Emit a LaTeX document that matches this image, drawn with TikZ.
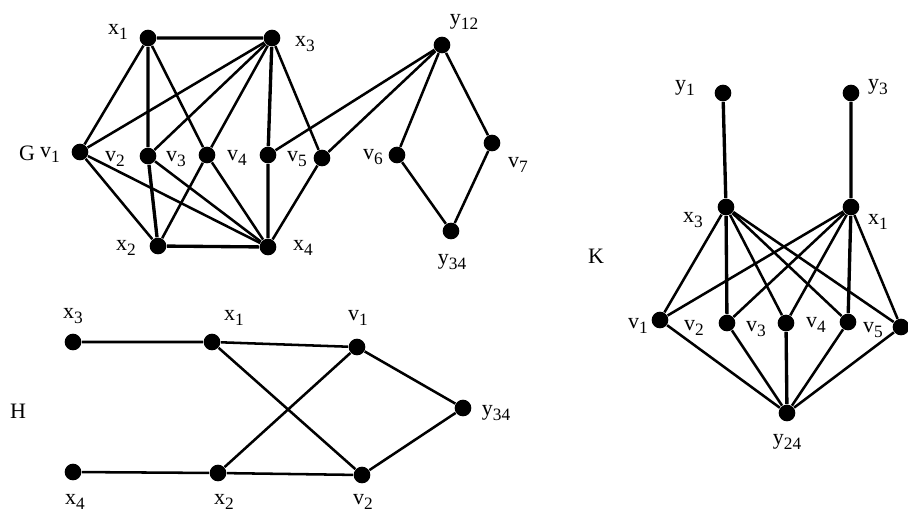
\documentclass[tikz,border=0pt]{standalone}
\usepackage{fontspec}
\setmainfont{Liberation Serif}
\newcommand{\idx}[2]{#1\raisebox{-0.5ex}{\fontsize{13}{13}\selectfont #2}}

\tikzset{every picture/.style={line width=0.75pt}}
\tikzset{
  dot/.style={circle,fill=black,inner sep=0pt,minimum size=12.5pt},
  txt/.style={font=\fontsize{16.5}{18}\selectfont,inner sep=0pt},
  edge/.style={line width=1.9pt},
  heavy/.style={line width=2.5pt}
}

\begin{document}
\begin{tikzpicture}[x=0.75pt,y=0.75pt,yscale=-1,xscale=1]
\useasboundingbox (0,0) rectangle (908,512);

%Graph G
\node[dot] (gx1) at (148,38) {};
\node[dot] (gx3) at (272,38) {};
\node[dot] (gv1) at (80,152) {};
\node[dot] (gv2) at (148,156) {};
\node[dot] (gv3) at (207,155) {};
\node[dot] (gv4) at (268,155) {};
\node[dot] (gv5) at (322,158) {};
\node[dot] (gx2) at (158,246) {};
\node[dot] (gx4) at (268,247) {};
\node[dot] (gy12) at (442,45) {};
\node[dot] (gv6) at (397,155) {};
\node[dot] (gv7) at (492,143) {};
\node[dot] (gy34) at (451,231) {};

\draw[heavy] (gx1) -- (gx3) (gx2) -- (gx4) (gx1) -- (gv2) -- (gx2) (gx3) -- (gv4) -- (gx4);
\foreach \v in {gv1,gv3} \draw[edge] (gx1) -- (\v);
\foreach \v in {gv1,gv2,gv3,gv5} \draw[edge] (gx3) -- (\v);
\foreach \v in {gv1,gv3} \draw[edge] (gx2) -- (\v);
\foreach \v in {gv1,gv2,gv3,gv5} \draw[edge] (gx4) -- (\v);
\draw[edge] (gv4) -- (gy12) -- (gv5);
\draw[edge] (gy12) -- (gv6) -- (gy34) -- (gv7) -- (gy12);

% Text Node
\node[txt] (gname) at (27,153) {G};
\node[txt] (lgx1) at (118,32) {\idx{x}{1}};
\node[txt] (lgx3) at (305,44) {\idx{x}{3}};
\node[txt] (lgv1) at (50,155) {\idx{v}{1}};
\node[txt] (lgv2) at (115,159) {\idx{v}{2}};
\node[txt] (lgv3) at (176,159) {\idx{v}{3}};
\node[txt] (lgv4) at (237,158) {\idx{v}{4}};
\node[txt] (lgv5) at (297,159) {\idx{v}{5}};
\node[txt] (lgx2) at (126,248) {\idx{x}{2}};
\node[txt] (lgx4) at (303,248) {\idx{x}{4}};
\node[txt] (lgy12) at (464,22) {\idx{y}{12}};
\node[txt] (lgv6) at (373,157) {\idx{v}{6}};
\node[txt] (lgv7) at (518,165) {\idx{v}{7}};
\node[txt] (lgy34) at (452,262) {\idx{y}{34}};

%Graph H
\node[dot] (hx3) at (73,342) {};
\node[dot] (hx1) at (212,342) {};
\node[dot] (hv1) at (357,347) {};
\node[dot] (hy34) at (463,408) {};
\node[dot] (hx4) at (73,472) {};
\node[dot] (hx2) at (218,473) {};
\node[dot] (hv2) at (362,475) {};

\draw[edge] (hx3) -- (hx1) -- (hv1) -- (hy34) -- (hv2) -- (hx2) -- (hx4);
\draw[edge] (hx1) -- (hv2) (hx2) -- (hv1);

% Text Node
\node[txt] (hname) at (18,411) {H};
\node[txt] (lhx3) at (73,316) {\idx{x}{3}};
\node[txt] (lhx1) at (234,318) {\idx{x}{1}};
\node[txt] (lhv1) at (358,318) {\idx{v}{1}};
\node[txt] (lhy34) at (496,413) {\idx{y}{34}};
\node[txt] (lhx4) at (75,502) {\idx{x}{4}};
\node[txt] (lhx2) at (224,502) {\idx{x}{2}};
\node[txt] (lhv2) at (363,502) {\idx{v}{2}};

%Graph K
\node[dot] (ky1) at (723,93) {};
\node[dot] (ky3) at (851,93) {};
\node[dot] (kx3) at (726,207) {};
\node[dot] (kx1) at (851,207) {};
\node[dot] (kv1) at (660,320) {};
\node[dot] (kv2) at (727,323) {};
\node[dot] (kv3) at (786,323) {};
\node[dot] (kv4) at (848,322) {};
\node[dot] (kv5) at (901,327) {};
\node[dot] (ky24) at (787,413) {};

\draw[heavy] (ky1) -- (kx3) -- (kv2) (ky3) -- (kx1) -- (kv4) (kv3) -- (ky24);
\foreach \v in {kv1,kv3,kv4,kv5} \draw[edge] (kx3) -- (\v);
\foreach \v in {kv1,kv2,kv3,kv5} \draw[edge] (kx1) -- (\v);
\foreach \v in {kv1,kv2,kv4,kv5} \draw[edge] (ky24) -- (\v);

% Text Node
\node[txt] (kname) at (596,256) {K};
\node[txt] (lky1) at (685,88) {\idx{y}{1}};
\node[txt] (lky3) at (878,87) {\idx{y}{3}};
\node[txt] (lkx3) at (693,220) {\idx{x}{3}};
\node[txt] (lkx1) at (878,222) {\idx{x}{1}};
\node[txt] (lkv1) at (638,326) {\idx{v}{1}};
\node[txt] (lkv2) at (694,328) {\idx{v}{2}};
\node[txt] (lkv3) at (756,329) {\idx{v}{3}};
\node[txt] (lkv4) at (816,325) {\idx{v}{4}};
\node[txt] (lkv5) at (873,330) {\idx{v}{5}};
\node[txt] (lky24) at (787,442) {\idx{y}{24}};

\end{tikzpicture}
\end{document}
